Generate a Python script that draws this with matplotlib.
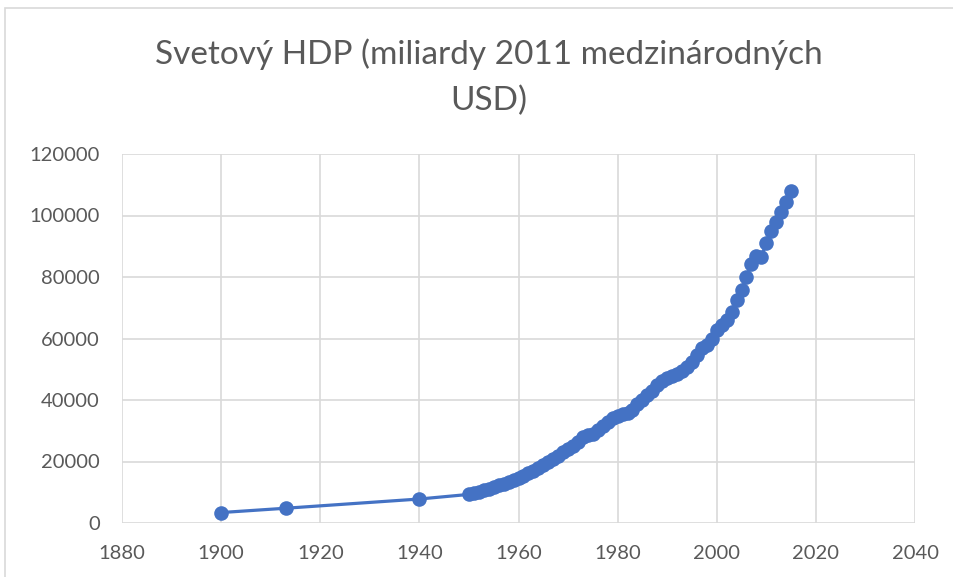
import matplotlib.pyplot as plt
from matplotlib.patches import Rectangle

# World GDP, billions of 2011 international USD
years_early = [1900, 1913, 1940]
gdp_early = [3400, 4800, 7800]

years_modern = list(range(1950, 2016))
gdp_modern = [
    9300, 9800, 10200, 10700, 11100, 11800, 12300, 12800, 13200, 14000,
    14700, 15300, 16100, 16900, 18000, 18900, 19900, 20700, 21800, 23100,
    24200, 25200, 26500, 28000, 28500, 29000, 30400, 31600, 33000, 34200,
    34900, 35500, 35800, 36800, 38600, 40000, 41500, 43000, 44900, 46300,
    47300, 47800, 48500, 49300, 50800, 52500, 54600, 56800, 58000, 60000,
    62900, 64300, 66100, 68700, 72500, 75900, 80000, 84300, 86800, 86500,
    91200, 94900, 97900, 101000, 104500, 108100,
]

title = "Svetový HDP (miliardy 2011 medzinárodných\nUSD)"
x_ticks = list(range(1880, 2041, 20))
y_ticks = list(range(0, 120001, 20000))

years = years_early + years_modern
gdp = gdp_early + gdp_modern

plt.rcParams['font.family'] = ['Lato', 'DejaVu Sans']
text_color = '#595959'
grid_color = '#D9D9D9'
blue = '#4472C4'

fig = plt.figure(figsize=(9.54, 5.77), dpi=100)
ax = fig.add_axes([122 / 954, 54 / 577, 793 / 954, 369 / 577])

ax.plot(years, gdp, color=blue, linewidth=2.3, marker='o', markersize=10.5,
        markeredgewidth=0, zorder=3)

ax.set_xlim(1880, 2040)
ax.set_ylim(0, 120000)
ax.set_xticks(x_ticks)
ax.set_yticks(y_ticks)
ax.grid(True, color=grid_color, linewidth=1.2)
ax.set_axisbelow(True)
for s in ax.spines.values():
    s.set_visible(False)
ax.tick_params(length=0, labelsize=14.5, colors=text_color)
ax.tick_params(axis='x', pad=16)
ax.tick_params(axis='y', pad=16)

fig.text(0.512, 0.866, title, ha='center', va='center', fontsize=24,
         color=text_color, linespacing=1.65)

# Excel-like chart area border
fig.patches.append(Rectangle((5 / 954, -0.02), 1.0, 1 - 8 / 577 + 0.02,
                             transform=fig.transFigure, fill=False,
                             edgecolor=grid_color, linewidth=1.2))

plt.savefig("out.png", dpi=100)
